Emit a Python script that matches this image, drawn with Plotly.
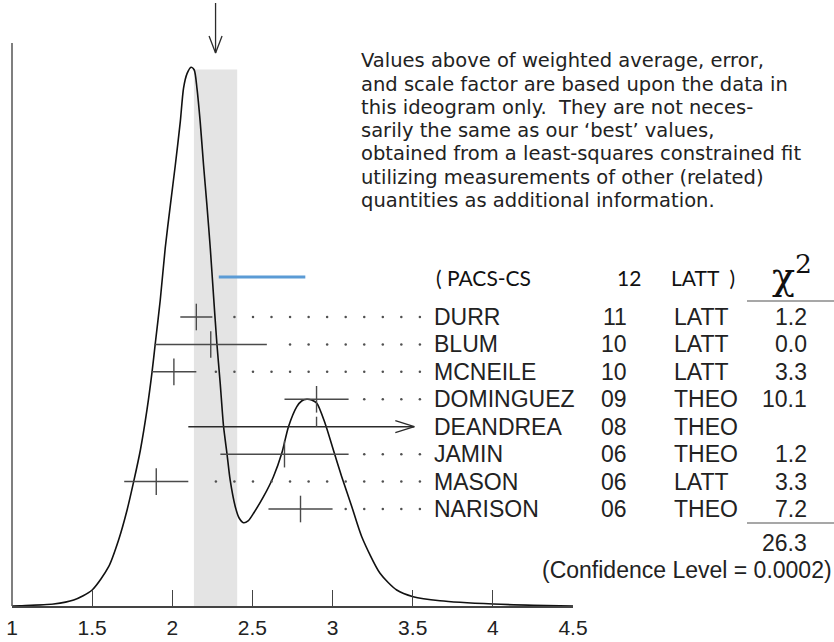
import plotly.graph_objects as go

# ---------------- data ----------------
tick_vals = [1, 1.5, 2, 2.5, 3, 3.5, 4, 4.5]
tick_text = ["1", "1.5", "2", "2.5", "3", "3.5", "4", "4.5"]

names = ["DURR", "BLUM", "MCNEILE", "DOMINGUEZ", "DEANDREA", "JAMIN", "MASON", "NARISON"]
years = ["11", "10", "10", "09", "08", "06", "06", "06"]
types = ["LATT", "LATT", "LATT", "THEO", "THEO", "THEO", "LATT", "THEO"]
values = [2.15, 2.24, 2.01, 2.90, 2.90, 2.70, 1.90, 2.80]
err_minus = [0.10, 0.35, 0.14, 0.20, 0.80, 0.40, 0.20, 0.20]
err_plus = [0.10, 0.35, 0.14, 0.20, None, 0.40, 0.20, 0.20]  # None = off scale (arrow)
chi2 = ["1.2", "0.0", "3.3", "10.1", "", "1.2", "3.3", "7.2"]
chi2_total = "26.3"
confidence_level = "0.0002"

extra_name, extra_year, extra_type = "PACS-CS", "12", "LATT"
extra_value, extra_err = 2.56, 0.27

avg_value, avg_err = 2.27, 0.135

# ideogram curve (relative height, peak = 1)
curve_x = [1.00, 1.05, 1.26, 1.385, 1.50, 1.603, 1.665, 1.718, 1.759, 1.801, 1.842, 1.874,
           1.894, 1.925, 1.956, 1.988, 2.019, 2.050, 2.070, 2.092, 2.117, 2.137, 2.154, 2.174,
           2.195, 2.216, 2.237, 2.257, 2.278, 2.299, 2.320, 2.341, 2.361, 2.393, 2.417, 2.444,
           2.473, 2.507, 2.569, 2.631, 2.683, 2.725, 2.777, 2.807, 2.839, 2.869, 2.902, 2.953,
           3.005, 3.057, 3.120, 3.182, 3.296, 3.400, 3.503, 3.670, 4.002, 4.251, 4.50]
curve_y = [0.000, 0.0006, 0.0037, 0.0111, 0.0297, 0.0729, 0.1225, 0.1782, 0.2307, 0.2895,
           0.3638, 0.4349, 0.4876, 0.5679, 0.6644, 0.7442, 0.8185, 0.8989, 0.9608, 0.988,
           1.000, 0.9948, 0.9608, 0.8989, 0.8185, 0.7442, 0.6644, 0.5772, 0.4876, 0.4133,
           0.3328, 0.2834, 0.2339, 0.1843, 0.1633, 0.1546, 0.1578, 0.1721, 0.2029, 0.2400,
           0.2834, 0.3328, 0.3699, 0.3805, 0.3836, 0.3823, 0.3762, 0.3391, 0.2895, 0.2400,
           0.1843, 0.1286, 0.0607, 0.0297, 0.0173, 0.0098, 0.0037, 0.0013, 0.000]

paragraph = [
    "Values above of weighted average, error,",
    "and scale factor are based upon the data in",
    "this ideogram only.\u00a0 They are not neces-",
    "sarily the same as our \u2018best\u2019 values,",
    "obtained from a least-squares constrained fit",
    "utilizing measurements of other (related)",
    "quantities as additional information.",
]

# ---------------- layout geometry ----------------
W, H = 834, 642
ML, MR, MT, MB = 12, 261, 0, 36
PW, PH = W - ML - MR, H - MT - MB
XMIN, XMAX = 1.0, 4.5
PX_PER_X = PW / (XMAX - XMIN)
PX_PER_Y = 538.8
YMAX = PH / PX_PER_Y
AXIS_PY = H - MB


def ydat(py):
    return (AXIS_PY - py) / PX_PER_Y


def dx(px):
    return px / PX_PER_X


def dy(px):
    return px / PX_PER_Y


def pxp(px):
    return (px - ML) / PW


def pyp(py):
    return (AXIS_PY - py) / PH


ROW0_PY, ROW_DY = 317.0, 27.43
HEADER_PY = 277.0
row_py = [ROW0_PY + i * ROW_DY for i in range(len(names))]
row_y = [ydat(p) for p in row_py]

DOT_X0, DOT_DX, N_DOTS = 2.272, 0.1157, 12
ARROW_END = 3.51
INK = "#2b2b2b"
BAR = "#4a4a4a"
TXT = "#222222"
TXT_FONT = "Liberation Sans, Arial, Helvetica, sans-serif"

fig = go.Figure()

# gray band (weighted average +- error)
fig.add_shape(type="rect", xref="x", yref="y",
              x0=avg_value - avg_err, x1=avg_value + avg_err, y0=0, y1=ydat(69.5),
              fillcolor="#e4e4e4", line=dict(width=0), layer="below")

# ideogram curve
fig.add_trace(go.Scatter(x=curve_x, y=curve_y, mode="lines",
                         line=dict(color="#111111", width=1.6, shape="spline", smoothing=0.7),
                         hoverinfo="skip", showlegend=False))

# dotted leaders
dot_x, dot_y = [], []
for i in range(len(names)):
    if err_plus[i] is None:
        continue
    hi = values[i] + err_plus[i]
    for k in range(N_DOTS):
        xd = DOT_X0 + k * DOT_DX
        if xd > hi + dx(6):
            dot_x.append(xd)
            dot_y.append(row_y[i])
fig.add_trace(go.Scatter(x=dot_x, y=dot_y, mode="markers",
                         marker=dict(size=2.5, color="#505050"),
                         hoverinfo="skip", showlegend=False))

# measurements with error bars
idx = [i for i in range(len(names)) if err_plus[i] is not None]
fig.add_trace(go.Scatter(
    x=[values[i] for i in idx], y=[row_y[i] for i in idx], mode="markers",
    marker=dict(symbol="line-ns-open", size=19, color=BAR, line=dict(color=BAR, width=1.4)),
    error_x=dict(type="data", symmetric=False,
                 array=[err_plus[i] for i in idx],
                 arrayminus=[err_minus[i] for i in idx],
                 thickness=1.5, width=0, color=BAR),
    hoverinfo="skip", showlegend=False))

# off-scale measurement (arrow)
for i in range(len(names)):
    if err_plus[i] is not None:
        continue
    y0 = row_y[i]
    lo = values[i] - err_minus[i]
    fig.add_trace(go.Scatter(x=[lo, ARROW_END], y=[y0, y0], mode="lines",
                             line=dict(color=INK, width=1.4),
                             hoverinfo="skip", showlegend=False))
    fig.add_trace(go.Scatter(
        x=[ARROW_END - dx(19), ARROW_END, ARROW_END - dx(19)],
        y=[y0 + dy(6), y0, y0 - dy(6)], mode="lines",
        line=dict(color=INK, width=1.3), hoverinfo="skip", showlegend=False))
    fig.add_trace(go.Scatter(x=[values[i], values[i]], y=[y0, y0 + dy(10)], mode="lines",
                             line=dict(color=BAR, width=1.4),
                             hoverinfo="skip", showlegend=False))

# extra (blue) entry
yh = ydat(HEADER_PY)
fig.add_trace(go.Scatter(x=[extra_value - extra_err, extra_value + extra_err], y=[yh, yh],
                         mode="lines", line=dict(color="#5b9bd5", width=3),
                         hoverinfo="skip", showlegend=False))

# arrow marking the weighted average
ytip = ydat(53)
fig.add_trace(go.Scatter(x=[avg_value, avg_value], y=[ydat(3), ytip], mode="lines",
                         line=dict(color=INK, width=1.3), hoverinfo="skip", showlegend=False))
fig.add_trace(go.Scatter(x=[avg_value - dx(6.5), avg_value, avg_value + dx(6.5)],
                         y=[ytip + dy(17), ytip, ytip + dy(17)], mode="lines",
                         line=dict(color=INK, width=1.3), hoverinfo="skip", showlegend=False))

# left axis line (full height in the original)
fig.add_shape(type="line", xref="paper", yref="paper", x0=0, x1=0, y0=0, y1=pyp(43),
              line=dict(color="#555555", width=1.5))

ann = []

# paragraph
for k, line in enumerate(paragraph):
    ann.append(dict(text=line, xref="paper", yref="paper", x=pxp(359), y=pyp(60.7 + 23.3 * k),
                    xanchor="left", yanchor="middle", showarrow=False,
                    font=dict(family="DejaVu Sans", size=19.5, color=TXT)))

# table rows
tfont = dict(family=TXT_FONT, size=23, color=TXT)
for i in range(len(names)):
    yp = pyp(row_py[i])
    ann.append(dict(text=names[i], xref="paper", yref="paper", x=pxp(432), y=yp,
                    xanchor="left", yanchor="middle", showarrow=False, font=tfont))
    ann.append(dict(text=years[i], xref="paper", yref="paper", x=pxp(629), y=yp,
                    xanchor="right", yanchor="middle", showarrow=False, font=tfont))
    ann.append(dict(text=types[i], xref="paper", yref="paper", x=pxp(672), y=yp,
                    xanchor="left", yanchor="middle", showarrow=False, font=tfont))
    if chi2[i]:
        ann.append(dict(text=chi2[i], xref="paper", yref="paper", x=pxp(809), y=yp,
                        xanchor="right", yanchor="middle", showarrow=False, font=tfont))

ann.append(dict(text=chi2_total, xref="paper", yref="paper", x=pxp(809), y=pyp(543),
                xanchor="right", yanchor="middle", showarrow=False, font=tfont))
ann.append(dict(text="(Confidence Level = " + confidence_level + ")", xref="paper", yref="paper",
                x=pxp(834), y=pyp(570), xanchor="right", yanchor="middle", showarrow=False,
                font=tfont))

# header row (extra entry)
hdr_font = dict(family="Lato, Carlito, sans-serif", size=21, color="#111111")
ann.append(dict(text="( " + extra_name, xref="paper", yref="paper", x=pxp(434), y=pyp(HEADER_PY),
                xanchor="left", yanchor="middle", showarrow=False, font=hdr_font))
ann.append(dict(text=extra_year, xref="paper", yref="paper", x=pxp(643), y=pyp(HEADER_PY),
                xanchor="right", yanchor="middle", showarrow=False, font=hdr_font))
ann.append(dict(text=extra_type + "\u00a0 )", xref="paper", yref="paper", x=pxp(669),
                y=pyp(HEADER_PY), xanchor="left", yanchor="middle", showarrow=False,
                font=hdr_font))
ann.append(dict(text="\u03c7<sup>2</sup>", xref="paper", yref="paper", x=pxp(814), y=pyp(273),
                xanchor="right", yanchor="middle", showarrow=False,
                font=dict(family="DejaVu Serif, serif", size=38, color="#111111")))

# chi2 rules
for py in (301, 523):
    fig.add_shape(type="line", xref="paper", yref="paper", x0=pxp(747), x1=pxp(834),
                  y0=pyp(py), y1=pyp(py), line=dict(color="#8a8a8a", width=1.6))

fig.update_layout(
    width=W, height=H,
    margin=dict(l=ML, r=MR, t=MT, b=MB, pad=0),
    template="none",
    paper_bgcolor="white", plot_bgcolor="white",
    showlegend=False,
    font=dict(family=TXT_FONT, color=TXT),
    annotations=ann,
    xaxis=dict(range=[XMIN, XMAX], tickvals=tick_vals, ticktext=tick_text,
               showline=True, linecolor="#444444", linewidth=1.5, mirror=False,
               ticks="inside", ticklen=16, tickwidth=1.3, tickcolor="#444444",
               showgrid=False, zeroline=False, automargin=False, fixedrange=True,
               tickfont=dict(family=TXT_FONT, size=21, color=TXT),
               ticklabelstandoff=2),
    yaxis=dict(range=[0, YMAX], showline=False, showticklabels=False, ticks="",
               showgrid=False, zeroline=False, automargin=False, fixedrange=True),
)

fig.write_html("out.html", config={"displayModeBar": False})
